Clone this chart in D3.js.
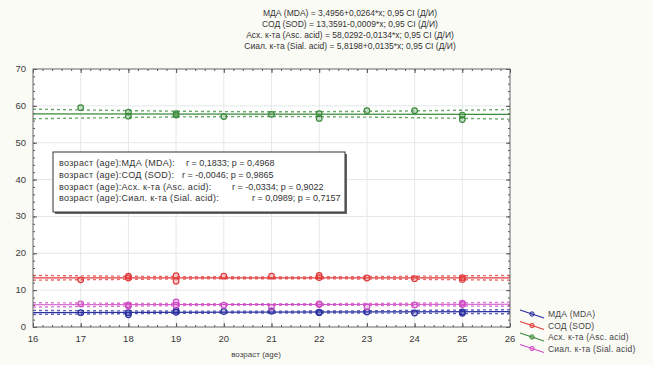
<!DOCTYPE html>
<html>
<head>
<meta charset="utf-8">
<script src="https://cdn.jsdelivr.net/npm/d3@7"></script>
<style>
  body { margin: 0; background: #fbfbf6; }
  svg { display: block; font-family: "Liberation Sans", Arial, sans-serif; }
  text { white-space: pre; }
</style>
</head>
<body>
<script>
// series names and colours
const seriesNames = ["МДА (MDA)", "СОД (SOD)", "Асх. к-та (Asc. acid)", "Сиал. к-та (Sial. acid)"];
const seriesColors = ["#2b2fa0", "#e23a3a", "#3a8a3a", "#d04cc4"];

// regression coefficients read from the header
const intercepts = [3.4956, 13.3591, 58.0292, 5.8198];
const slopes = [0.0264, -0.0009, -0.0134, 0.0135];
const titleLines = [
  "МДА (MDA) = 3,4956+0,0264*x; 0,95 CI (Д/И)",
  "СОД (SOD) = 13,3591-0,0009*x; 0,95 CI (Д/И)",
  "Асх. к-та (Asc. acid) = 58,0292-0,0134*x; 0,95 CI (Д/И)",
  "Сиал. к-та (Sial. acid) = 5,8198+0,0135*x; 0,95 CI (Д/И)"
];

// confidence band edges read at age 16, 21, 26
const ciAges = [16, 21, 26];
const ciUpper = [
  [4.5, 4.3, 4.7],
  [14.0, 13.6, 14.0],
  [59.1, 58.4, 59.0],
  [6.6, 6.3, 6.7]
];
const ciLower = [
  [3.4, 3.8, 3.6],
  [12.7, 13.1, 12.7],
  [56.5, 57.1, 56.4],
  [5.4, 5.9, 5.6]
];

// observed points (age, value)
const ages = [17, 18, 18, 19, 19, 20, 21, 22, 22, 23, 24, 25, 25];
const mdaValues = [3.9, 3.3, 3.9, 4.5, 4.0, 4.2, 4.3, 3.9, 4.0, 4.1, 3.8, 3.7, 4.1];
const sodValues = [12.8, 13.8, 13.3, 13.9, 12.4, 13.8, 13.8, 14.0, 13.4, 13.3, 13.1, 12.9, 13.4];
const ascValues = [59.5, 58.3, 57.2, 57.9, 57.5, 57.1, 57.7, 56.6, 57.9, 58.7, 58.7, 56.3, 57.5];
const sialValues = [6.3, 5.7, 6.0, 6.8, 5.9, 5.9, 5.4, 6.3, 6.1, 5.5, 6.0, 6.5, 6.1];
const seriesValues = [mdaValues, sodValues, ascValues, sialValues];

// correlation box
const boxLabels = [
  "возраст (age):МДА (MDA):",
  "возраст (age):СОД (SOD):",
  "возраст (age):Асх. к-та (Asc. acid):",
  "возраст (age):Сиал. к-та (Sial. acid):"
];
const boxStats = [
  "r = 0,1833; p = 0,4968",
  "r = -0,0046; p = 0,9865",
  "r = -0,0334; p = 0,9022",
  "r = 0,0989; p = 0,7157"
];

const xTicks = [16, 17, 18, 19, 20, 21, 22, 23, 24, 25, 26];
const yTicks = [0, 10, 20, 30, 40, 50, 60, 70];
const xLabel = "возраст (age)";

const width = 653, height = 365;
const plot = { left: 33, top: 69, right: 510, bottom: 327 };

const svg = d3.select("body").append("svg")
  .attr("width", width)
  .attr("height", height);

const x = d3.scaleLinear().domain([16, 26]).range([plot.left, plot.right]);
const y = d3.scaleLinear().domain([0, 70]).range([plot.bottom, plot.top]);

// title
svg.append("g")
  .selectAll("text")
  .data(titleLines)
  .enter()
  .append("text")
  .attr("x", 350)
  .attr("y", (d, i) => 16 + i * 11)
  .attr("text-anchor", "middle")
  .attr("font-size", 8.5)
  .attr("fill", "#333")
  .text((d) => d);

// plot background
svg.append("rect")
  .attr("x", plot.left).attr("y", plot.top)
  .attr("width", plot.right - plot.left)
  .attr("height", plot.bottom - plot.top)
  .attr("fill", "#fff");

// grid
svg.append("g")
  .selectAll("line")
  .data(xTicks.slice(1, -1))
  .enter()
  .append("line")
  .attr("x1", (d) => x(d)).attr("x2", (d) => x(d))
  .attr("y1", plot.top).attr("y2", plot.bottom)
  .attr("stroke", "#e4e8e8");
svg.append("g")
  .selectAll("line")
  .data(yTicks.slice(1, -1))
  .enter()
  .append("line")
  .attr("x1", plot.left).attr("x2", plot.right)
  .attr("y1", (d) => y(d)).attr("y2", (d) => y(d))
  .attr("stroke", "#e4e8e8");

// axes with inward ticks
const xMinor = d3.range(16, 26.001, 0.2);
const yMinor = d3.range(0, 70.001, 2);
const axisColor = "#555";

const addAxis = (axis, transform) => {
  const g = svg.append("g").attr("transform", transform).call(axis);
  g.select(".domain").remove();
  g.selectAll("line").attr("stroke", axisColor);
  g.selectAll("text").remove();
};
addAxis(d3.axisBottom(x).tickValues(xMinor).tickSizeInner(-2).tickSizeOuter(0), `translate(0,${plot.bottom})`);
addAxis(d3.axisBottom(x).tickValues(xTicks).tickSizeInner(-4).tickSizeOuter(0), `translate(0,${plot.bottom})`);
addAxis(d3.axisTop(x).tickValues(xMinor).tickSizeInner(-2).tickSizeOuter(0), `translate(0,${plot.top})`);
addAxis(d3.axisTop(x).tickValues(xTicks).tickSizeInner(-4).tickSizeOuter(0), `translate(0,${plot.top})`);
addAxis(d3.axisLeft(y).tickValues(yMinor).tickSizeInner(-2).tickSizeOuter(0), `translate(${plot.left},0)`);
addAxis(d3.axisLeft(y).tickValues(yTicks).tickSizeInner(-4).tickSizeOuter(0), `translate(${plot.left},0)`);
addAxis(d3.axisRight(y).tickValues(yMinor).tickSizeInner(-2).tickSizeOuter(0), `translate(${plot.right},0)`);
addAxis(d3.axisRight(y).tickValues(yTicks).tickSizeInner(-4).tickSizeOuter(0), `translate(${plot.right},0)`);

// tick labels
svg.append("g")
  .selectAll("text")
  .data(xTicks)
  .enter()
  .append("text")
  .attr("x", (d) => x(d))
  .attr("y", plot.bottom + 15)
  .attr("text-anchor", "middle")
  .attr("font-size", 9.5)
  .attr("fill", "#3a3a3a")
  .text((d) => d);
svg.append("g")
  .selectAll("text")
  .data(yTicks)
  .enter()
  .append("text")
  .attr("x", plot.left - 7)
  .attr("y", (d) => y(d) + 3)
  .attr("text-anchor", "end")
  .attr("font-size", 9.5)
  .attr("fill", "#3a3a3a")
  .text((d) => d);

svg.append("text")
  .attr("x", 256)
  .attr("y", 357)
  .attr("text-anchor", "middle")
  .attr("font-size", 8)
  .attr("fill", "#444")
  .text(xLabel);

// clip for the data layer
svg.append("clipPath").attr("id", "clip")
  .append("rect")
  .attr("x", plot.left).attr("y", plot.top)
  .attr("width", plot.right - plot.left)
  .attr("height", plot.bottom - plot.top);
const layer = svg.append("g").attr("clip-path", "url(#clip)");

const ciLine = d3.line()
  .x((d) => x(d[0]))
  .y((d) => y(d[1]))
  .curve(d3.curveNatural);

seriesNames.forEach((name, s) => {
  const color = seriesColors[s];
  // confidence bands
  [ciUpper[s], ciLower[s]].forEach((band) => {
    layer.append("path")
      .datum(ciAges.map((a, i) => [a, band[i]]))
      .attr("fill", "none")
      .attr("stroke", color)
      .attr("stroke-width", 1.4)
      .attr("stroke-dasharray", "3,3")
      .attr("opacity", 0.75)
      .attr("d", ciLine);
  });
  // fitted line
  layer.append("line")
    .attr("x1", x(16)).attr("x2", x(26))
    .attr("y1", y(intercepts[s] + slopes[s] * 16))
    .attr("y2", y(intercepts[s] + slopes[s] * 26))
    .attr("stroke", color)
    .attr("stroke-width", 1.2);
  // points
  layer.append("g")
    .selectAll("circle")
    .data(seriesValues[s])
    .enter()
    .append("circle")
    .attr("cx", (d, i) => x(ages[i]))
    .attr("cy", (d) => y(d))
    .attr("r", 2.8)
    .attr("fill", color)
    .attr("fill-opacity", 0.25)
    .attr("stroke", color)
    .attr("stroke-width", 1.2);
});

// plot border
svg.append("rect")
  .attr("x", plot.left).attr("y", plot.top)
  .attr("width", plot.right - plot.left)
  .attr("height", plot.bottom - plot.top)
  .attr("fill", "none")
  .attr("stroke", "#666")
  .attr("stroke-width", 1);

// correlation box with shadow
const box = { x: 53, y: 152, w: 292, h: 60 };
const statX = [186, 182, 232, 252];
svg.append("rect")
  .attr("x", box.x + 2).attr("y", box.y + 2)
  .attr("width", box.w).attr("height", box.h)
  .attr("fill", "#666");
svg.append("rect")
  .attr("x", box.x).attr("y", box.y)
  .attr("width", box.w).attr("height", box.h)
  .attr("fill", "#fff")
  .attr("stroke", "#333");
const rows = svg.append("g")
  .selectAll("g")
  .data(boxLabels)
  .enter()
  .append("g")
  .attr("transform", (d, i) => `translate(0,${box.y + 14 + i * 11.8})`);
rows.append("text")
  .attr("x", box.x + 6)
  .attr("font-size", 9)
  .attr("letter-spacing", 0.3)
  .attr("fill", "#333")
  .text((d) => d);
rows.append("text")
  .attr("x", (d, i) => statX[i])
  .attr("font-size", 9)
  .attr("fill", "#333")
  .text((d, i) => boxStats[i]);

// legend
const legend = svg.append("g")
  .selectAll("g")
  .data(seriesNames)
  .enter()
  .append("g")
  .attr("transform", (d, i) => `translate(520,${310 + i * 11.5})`);
legend.append("line")
  .attr("x1", 0).attr("y1", 0)
  .attr("x2", 24).attr("y2", 8)
  .attr("stroke", (d, i) => seriesColors[i])
  .attr("stroke-width", 1.3);
legend.append("circle")
  .attr("cx", 12).attr("cy", 4)
  .attr("r", 2.2)
  .attr("fill", (d, i) => seriesColors[i])
  .attr("fill-opacity", 0.3)
  .attr("stroke", (d, i) => seriesColors[i]);
legend.append("text")
  .attr("x", 28)
  .attr("y", 7)
  .attr("font-size", 8.5)
  .attr("letter-spacing", 0.2)
  .attr("fill", "#444")
  .text((d) => d);
</script>
</body>
</html>
